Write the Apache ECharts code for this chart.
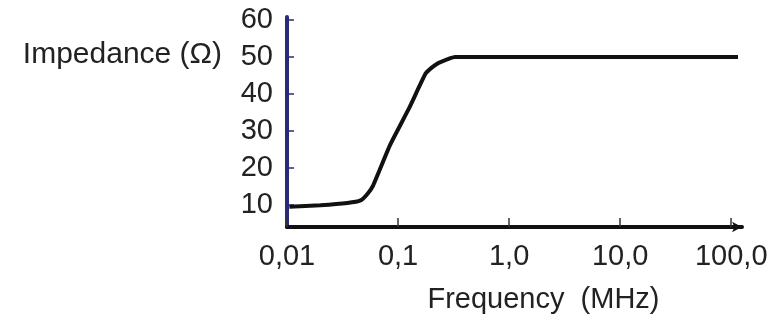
<!DOCTYPE html>
<html>
<head>
<meta charset="utf-8">
<script src="https://cdn.jsdelivr.net/npm/echarts@6/dist/echarts.min.js"></script>
<style>
  html, body { margin: 0; padding: 0; background: #fff; }
  #chart { width: 782px; height: 330px; }
</style>
</head>
<body>
<div id="chart"></div>
<script>
// frequency (MHz) and impedance (ohm)
var freq = [0.0105, 0.02, 0.035, 0.046, 0.0525, 0.0596, 0.0848, 0.126, 0.177, 0.205, 0.232, 0.327, 1, 10, 115];
var impedance = [9.5, 9.9, 10.5, 11.2, 12.8, 15.2, 26.2, 36.2, 45.5, 47.3, 48.4, 50, 50, 50, 50];
var xTicks = [0.01, 0.1, 1, 10, 100];
var xTickLabels = ['0,01', '0,1', '1,0', '10,0', '100,0'];
var yTicks = [10, 20, 30, 40, 50, 60];

var data = [];
for (var i = 0; i < freq.length; i++) {
  data.push([freq[i], impedance[i]]);
}

var ec = echarts.init(document.getElementById('chart'));
ec.setOption({
  animation: false,
  grid: {
    left: 287,
    right: 40,
    top: 17,
    bottom: 103
  },
  xAxis: {
    type: 'log',
    logBase: 10,
    min: 0.01,
    max: 125,
    name: 'Frequency  (MHz)',
    nameLocation: 'middle',
    nameGap: 58,
    nameTextStyle: {
      fontFamily: 'Liberation Sans',
      fontSize: 29,
      color: '#222',
      padding: [0, 0, 0, 58]
    },
    axisLine: {
      onZero: false,
      symbol: ['none', 'arrow'],
      symbolSize: [8, 10],
      lineStyle: { color: '#111', width: 4 }
    },
    axisTick: {
      inside: true,
      length: 9,
      customValues: xTicks,
      lineStyle: { color: '#333', width: 1.5 }
    },
    axisLabel: {
      customValues: xTicks,
      margin: 15,
      fontFamily: 'Liberation Sans',
      fontSize: 29,
      color: '#222',
      formatter: function (v) {
        var k = xTicks.indexOf(v);
        return k >= 0 ? xTickLabels[k] : '';
      }
    },
    splitLine: { show: false }
  },
  yAxis: {
    type: 'value',
    min: 4,
    max: 60.8,
    name: 'Impedance (Ω)',
    nameLocation: 'end',
    nameGap: -38,
    nameTextStyle: {
      fontFamily: 'Liberation Sans',
      fontSize: 30,
      color: '#222',
      align: 'right',
      verticalAlign: 'middle',
      padding: [0, 65, 0, 0]
    },
    axisLine: {
      show: true,
      lineStyle: { color: '#2a2a78', width: 4 }
    },
    axisTick: {
      show: true,
      inside: true,
      length: 7,
      customValues: yTicks,
      lineStyle: { color: '#2a2a78', width: 1.5 }
    },
    axisLabel: {
      customValues: yTicks,
      margin: 14,
      fontFamily: 'Liberation Sans',
      fontSize: 29,
      color: '#222'
    },
    splitLine: { show: false }
  },
  series: [{
    type: 'line',
    data: data,
    smooth: 0.15,
    showSymbol: false,
    clip: false,
    lineStyle: { color: '#111', width: 4 }
  }]
});
</script>
</body>
</html>
